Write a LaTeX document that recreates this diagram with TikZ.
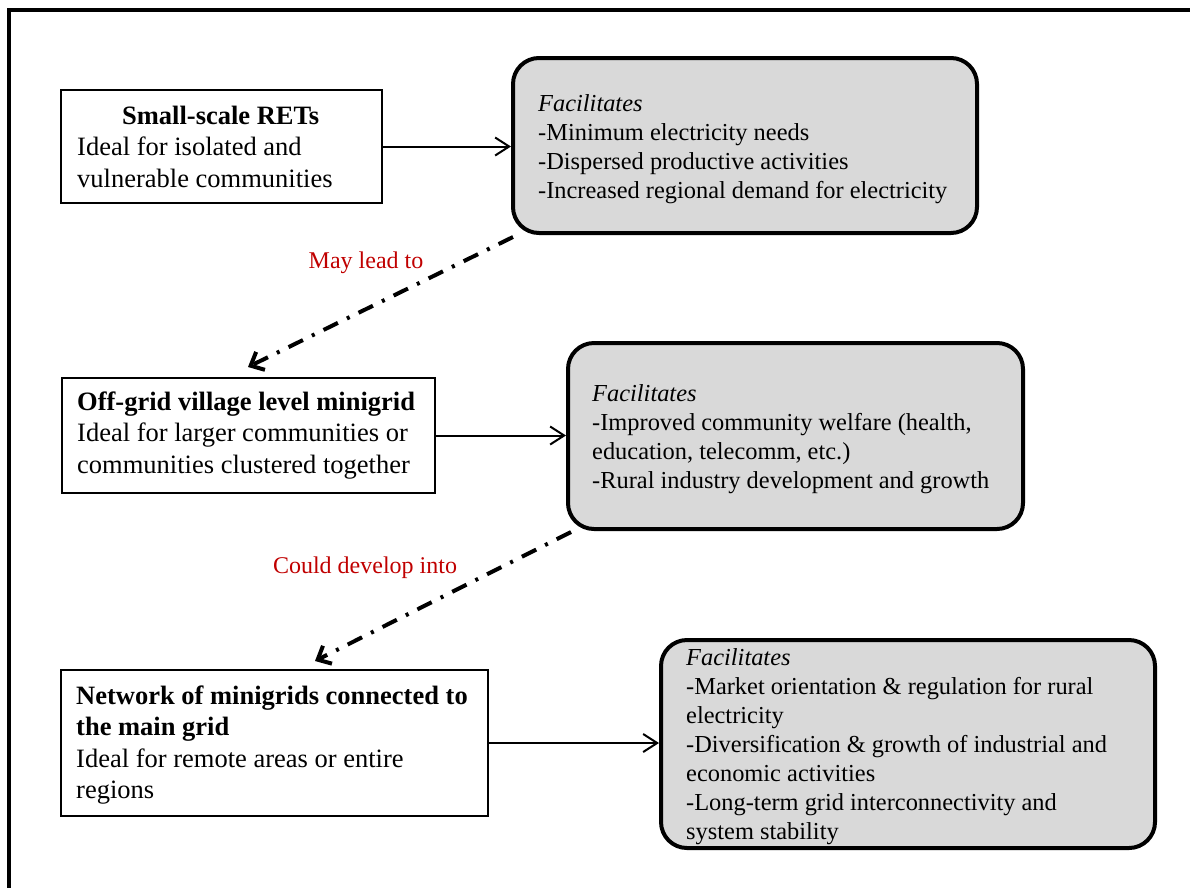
\documentclass[tikz,border=0pt]{standalone}
\usepackage{fontspec}
\setmainfont{Liberation Serif}
\usetikzlibrary{arrows.meta,calc}
\definecolor{boxgray}{HTML}{D9D9D9}
\definecolor{notered}{HTML}{C00000}

\tikzset{
  plainbox/.style={draw, line width=2pt, fill=white, inner sep=0pt},
  gainbox/.style={draw, line width=4pt, rounded corners=26pt, fill=boxgray, inner sep=0pt},
  plaintext/.style={anchor=west, inner sep=0pt, align=left, font=\fontsize{26.5pt}{31.5pt}\selectfont},
  gaintext/.style={anchor=west, inner sep=0pt, align=left, font=\fontsize{24.4pt}{29pt}\selectfont},
  flow/.style={line width=2pt, -{Straight Barb[length=14pt,width=18pt]}},
  leadsto/.style={line width=4pt, dash pattern=on 16pt off 10pt on 3pt off 10pt,
    -{Straight Barb[length=11pt,width=20pt]}},
  note/.style={text=notered, anchor=base, inner sep=0pt, font=\fontsize{24pt}{29pt}\selectfont}
}

\begin{document}
\begin{tikzpicture}[x=1pt,y=-1pt]
\path[use as bounding box] (0,0) rectangle (1190,887);

% outer frame
\draw[line width=3.5pt] (9,900) |- (1200,10);

% boxes
\node[plainbox, minimum width=321pt, minimum height=113pt] (ret) at (221.5,146.5) {};
\node[gainbox, minimum width=464pt, minimum height=175pt] (fac1) at (745,145.5) {};
\node[plainbox, minimum width=373pt, minimum height=115pt] (mini) at (248.5,435.5) {};
\node[gainbox, minimum width=455pt, minimum height=186pt] (fac2) at (795.5,436) {};
\node[plainbox, minimum width=427pt, minimum height=146pt] (net) at (274.5,743) {};
\node[gainbox, minimum width=494pt, minimum height=208pt] (fac3) at (908,744) {};

% box texts
\node[plaintext] (rett) at ($(ret.west)+(17,0)$)
  {\makebox[287pt][c]{\textbf{Small-scale RETs}}\\Ideal for isolated and\\vulnerable communities};
\node[gaintext] (fac1t) at ($(fac1.west)+(27,4)$)
  {\textit{Facilitates}\\-Minimum electricity needs\\-Dispersed productive activities\\-Increased regional demand for electricity};
\node[plaintext] (minit) at ($(mini.west)+(16,0)$)
  {\textbf{Off-grid village level minigrid}\\Ideal for larger communities or\\communities clustered together};
\node[gaintext] (fac2t) at ($(fac2.west)+(26,3)$)
  {\textit{Facilitates}\\-Improved community welfare (health,\\education, telecomm, etc.)\\-Rural industry development and growth};
\node[plaintext] (nett) at ($(net.west)+(16,2)$)
  {\textbf{Network of minigrids connected to}\\\textbf{the main grid}\\Ideal for remote areas or entire\\regions};
\node[gaintext] (fac3t) at ($(fac3.west)+(27,3)$)
  {\textit{Facilitates}\\-Market orientation \& regulation for rural\\electricity\\-Diversification \& growth of industrial and\\economic activities\\-Long-term grid interconnectivity and\\system stability};

% what each stage facilitates
\draw[flow] (ret.east) -- (ret.east -| fac1.west);
\draw[flow] (mini.east) -- (mini.east -| fac2.west);
\draw[flow] (net.east) -- (net.east -| fac3.west);

% progression between stages
\coordinate (s1) at ($(fac1.south west)+(2,2)$);
\coordinate (e1) at ($(mini.north west)+(187,-10)$);
\coordinate (s2) at ($(fac2.south west)+(5,1)$);
\coordinate (e2) at ($(net.north west)+(255,-8)$);
\draw[leadsto] (s1) -- (e1);
\draw[leadsto] (s2) -- (e2);

\node[note] (lead) at (366,268) {May lead to};
\node[note] (dev) at (365,573) {Could develop into};
\end{tikzpicture}
\end{document}
